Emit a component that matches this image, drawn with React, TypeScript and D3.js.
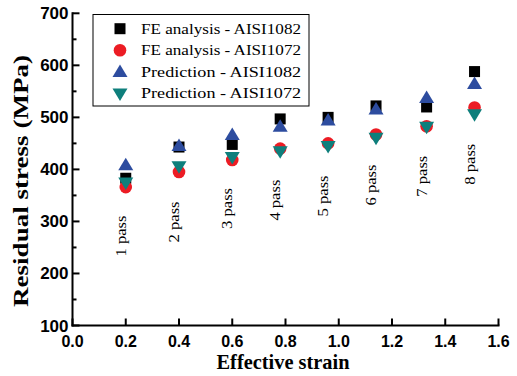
import React from "react";
import * as d3 from "d3";

const strain = [0.2, 0.4, 0.6, 0.78, 0.96, 1.14, 1.33, 1.51];
const passLabels = ["1 pass", "2 pass", "3 pass", "4 pass", "5 pass", "6 pass", "7 pass", "8 pass"];
const passLabelY = [272, 299, 325, 341, 349, 370, 387, 410];
const feAISI1082 = [383, 443, 448, 497, 500, 522, 520, 588];
const feAISI1072 = [366, 395, 418, 440, 450, 467, 483, 519];
const predAISI1082 = [408, 445, 466, 482, 494, 515, 537, 564];
const predAISI1072 = [375, 406, 424, 435, 445, 461, 482, 506];
const xTicks = [0, 0.2, 0.4, 0.6, 0.8, 1.0, 1.2, 1.4, 1.6];
const yTicks = [100, 200, 300, 400, 500, 600, 700];
const yMinor = [150, 250, 350, 450, 550, 650];
const seriesNames = ["FE analysis - AISI1082", "FE analysis - AISI1072", "Prediction - AISI1082", "Prediction - AISI1072"];

const W = 517, H = 376;
const x = d3.scaleLinear().domain([0, 1.6]).range([72.5, 498.5]);
const y = d3.scaleLinear().domain([100, 700]).range([325.5, 13.3]);

const RED = "#ec1c24";
const BLUE = "#2d4c9f";
const TEAL = "#0e7f7c";

function Marker({ kind, cx, cy }: { kind: number; cx: number; cy: number }) {
  if (kind === 0) return <rect x={cx - 5.5} y={cy - 5.5} width={11} height={11} fill="#000" />;
  if (kind === 1) return <circle cx={cx} cy={cy} r={6.3} fill={RED} />;
  if (kind === 2)
    return <path d={`M${cx},${cy - 7.5} L${cx + 7.5},${cy + 5} L${cx - 7.5},${cy + 5} Z`} fill={BLUE} />;
  return <path d={`M${cx},${cy + 7.5} L${cx + 7.5},${cy - 5} L${cx - 7.5},${cy - 5} Z`} fill={TEAL} />;
}

export default function App() {
  const series = [feAISI1082, feAISI1072, predAISI1082, predAISI1072];
  const serif = "'Liberation Serif', 'Times New Roman', serif";
  const sans = "'Liberation Sans', Arial, sans-serif";
  const x0 = x.range()[0];
  const y0 = y.range()[0];
  return (
    <svg width={W} height={H} style={{ position: "absolute", left: 0, top: 0, background: "#fff" }}>
      {/* pass labels */}
      {passLabels.map((t, i) => (
        <text
          key={t}
          transform={`translate(${x(strain[i])},${y(passLabelY[i])}) rotate(-90)`}
          textAnchor="middle"
          fontFamily={serif}
          fontSize={14}
          textLength={41}
          lengthAdjust="spacingAndGlyphs"
        >
          {t}
        </text>
      ))}
      {/* markers */}
      {series.map((s, k) => (
        <g key={k}>
          {s.map((v, i) => (
            <Marker key={i} kind={k} cx={x(strain[i])} cy={y(v)} />
          ))}
        </g>
      ))}
      {/* axes */}
      <g stroke="#000" strokeWidth={2} fill="none">
        <line x1={x0} y1={y(700) - 1} x2={x0} y2={y0 + 1} />
        <line x1={x0 - 1} y1={y0} x2={x(1.6) + 1} y2={y0} />
        {yTicks.map((t) => (
          <line key={t} x1={x0} y1={y(t)} x2={x0 + 7} y2={y(t)} />
        ))}
        {yMinor.map((t) => (
          <line key={t} x1={x0} y1={y(t)} x2={x0 + 4} y2={y(t)} />
        ))}
        {xTicks.map((t) => (
          <line key={t} x1={x(t)} y1={y0} x2={x(t)} y2={y0 - 7} />
        ))}
      </g>
      {yTicks.map((t) => (
        <text key={t} x={x0 - 4} y={y(t) + 6} textAnchor="end" fontFamily={sans} fontWeight="bold" fontSize={17}>
          {t}
        </text>
      ))}
      {xTicks.map((t) => (
        <text key={t} x={x(t)} y={346.5} textAnchor="middle" fontFamily={sans} fontWeight="bold" fontSize={16}>
          {d3.format(".1f")(t)}
        </text>
      ))}
      <text x={283} y={369} textAnchor="middle" fontFamily={serif} fontWeight="bold" fontSize={21} textLength={133} lengthAdjust="spacingAndGlyphs">
        Effective strain
      </text>
      <text
        transform={`translate(28,181) rotate(-90)`}
        textAnchor="middle"
        fontFamily={serif}
        fontWeight="bold"
        fontSize={22}
        textLength={252}
        lengthAdjust="spacingAndGlyphs"
      >
        Residual stress (MPa)
      </text>
      {/* legend */}
      <rect x={93} y={14.5} width={216} height={91.5} fill="#fff" stroke="#000" strokeWidth={1} />
      {seriesNames.map((n, i) => (
        <g key={n}>
          <Marker kind={i} cx={120} cy={28.7 + i * 21.6} />
          <text x={141} y={33.5 + i * 21.6} fontFamily={serif} fontSize={15.5} textLength={160} lengthAdjust="spacingAndGlyphs">
            {n}
          </text>
        </g>
      ))}
    </svg>
  );
}
